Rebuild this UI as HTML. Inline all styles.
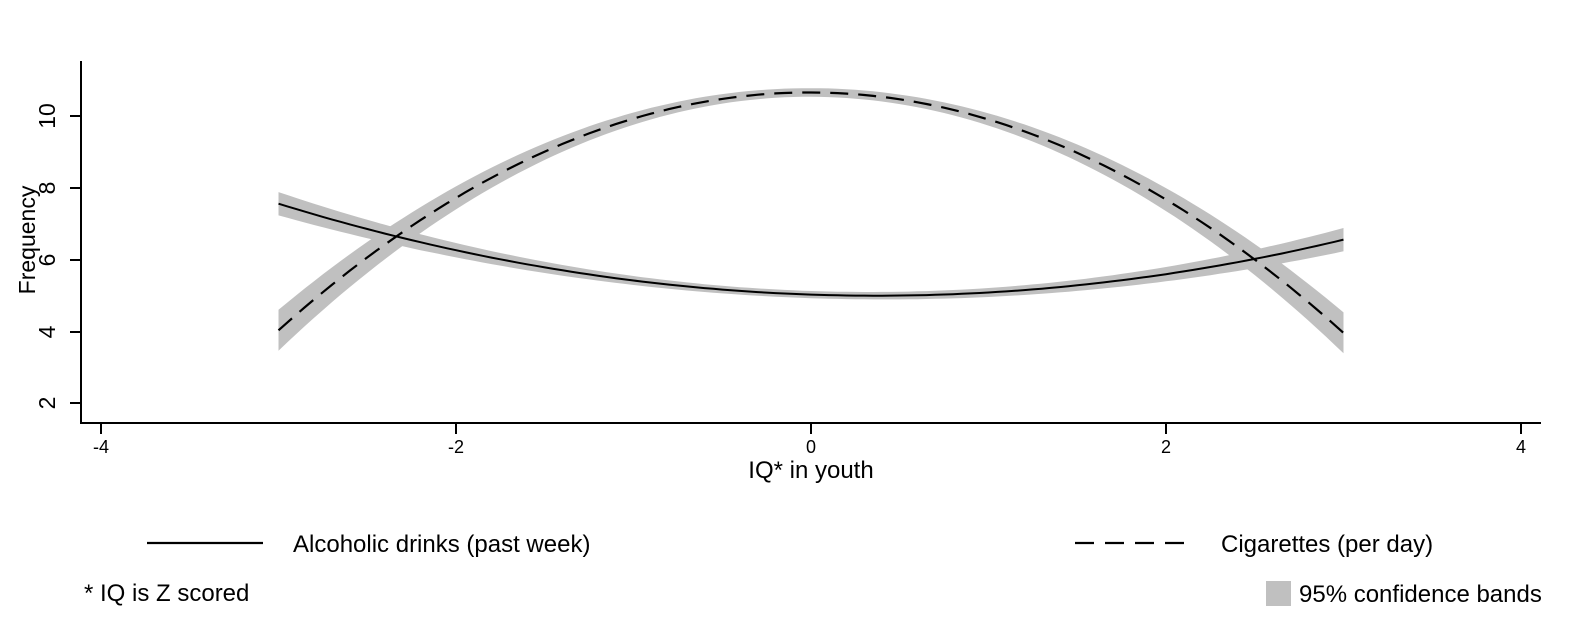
<!DOCTYPE html>
<html><head><style>
body{margin:0;background:#fff;}
svg{display:block;font-family:"Liberation Sans",Arial,sans-serif;}
</style></head><body>
<svg id="s" width="1589" height="632" viewBox="0 0 1589 632">
<rect width="1589" height="632" fill="#fff"/>
<g id="bands"></g>
<g id="lines"></g>
<line x1="81" y1="61" x2="81" y2="424" stroke="#000" stroke-width="2"/>
<line x1="80" y1="423" x2="1541" y2="423" stroke="#000" stroke-width="2"/>
<g stroke="#000" stroke-width="2">
<line x1="70" y1="116" x2="81" y2="116"/><line x1="70" y1="188" x2="81" y2="188"/>
<line x1="70" y1="260" x2="81" y2="260"/><line x1="70" y1="332" x2="81" y2="332"/>
<line x1="70" y1="403" x2="81" y2="403"/>
<line x1="101" y1="423" x2="101" y2="434"/><line x1="456" y1="423" x2="456" y2="434"/>
<line x1="811" y1="423" x2="811" y2="434"/><line x1="1166" y1="423" x2="1166" y2="434"/>
<line x1="1521" y1="423" x2="1521" y2="434"/>
</g>
<g font-size="23" text-anchor="middle">
<text transform="translate(55,116) rotate(-90)">10</text>
<text transform="translate(55,188) rotate(-90)">8</text>
<text transform="translate(55,260) rotate(-90)">6</text>
<text transform="translate(55,332) rotate(-90)">4</text>
<text transform="translate(55,403) rotate(-90)">2</text>
<text transform="translate(35,240) rotate(-90)">Frequency</text>
</g>
<g font-size="18" text-anchor="middle">
<text x="101" y="453">-4</text><text x="456" y="453">-2</text><text x="811" y="453">0</text>
<text x="1166" y="453">2</text><text x="1521" y="453">4</text>
</g>
<text x="811" y="478" font-size="24" text-anchor="middle">IQ* in youth</text>
<line x1="147" y1="543" x2="263" y2="543" stroke="#000" stroke-width="2.2"/>
<text x="293" y="552" font-size="24">Alcoholic drinks (past week)</text>
<line x1="1075" y1="543" x2="1191" y2="543" stroke="#000" stroke-width="2.2" stroke-dasharray="19,11"/>
<text x="1221" y="552" font-size="24">Cigarettes (per day)</text>
<text x="84" y="601" font-size="24">* IQ is Z scored</text>
<rect x="1266" y="581" width="25" height="25" fill="#c0c0c0"/>
<text x="1299" y="602" font-size="24">95% confidence bands</text>
</svg>
<script>
var X=function(v){return 811+v*177.5},Y=function(v){return 403-(v-2)*35.9};
function cig(x){return 10.65-0.012*x-0.74*x*x}
function alc(x){return 5.02-0.1667*x+0.2256*x*x}
function band(f,hw){var up=[],lo=[];for(var i=0;i<=120;i++){var x=-3+i*0.05,h=hw(x);up.push(X(x).toFixed(1)+","+Y(f(x)+h).toFixed(1));lo.unshift(X(x).toFixed(1)+","+Y(f(x)-h).toFixed(1));}return up.concat(lo).join(" ");}
function line(f){var p=[];for(var i=0;i<=120;i++){var x=-3+i*0.05;p.push(X(x).toFixed(1)+","+Y(f(x)).toFixed(1));}return p.join(" ");}
var ns="http://www.w3.org/2000/svg",b=document.getElementById("bands"),l=document.getElementById("lines");
[[cig,function(x){return 0.12+0.05*x*x}],[alc,function(x){return 0.1+0.025*x*x}]].forEach(function(a){var p=document.createElementNS(ns,"polygon");p.setAttribute("points",band(a[0],a[1]));p.setAttribute("fill","#c0c0c0");b.appendChild(p);});
var p1=document.createElementNS(ns,"polyline");p1.setAttribute("points",line(alc));p1.setAttribute("fill","none");p1.setAttribute("stroke","#000");p1.setAttribute("stroke-width","2");l.appendChild(p1);
var p2=document.createElementNS(ns,"polyline");p2.setAttribute("points",line(cig));p2.setAttribute("fill","none");p2.setAttribute("stroke","#000");p2.setAttribute("stroke-width","2.2");p2.setAttribute("stroke-dasharray","18,10");l.appendChild(p2);
</script>
</body></html>
